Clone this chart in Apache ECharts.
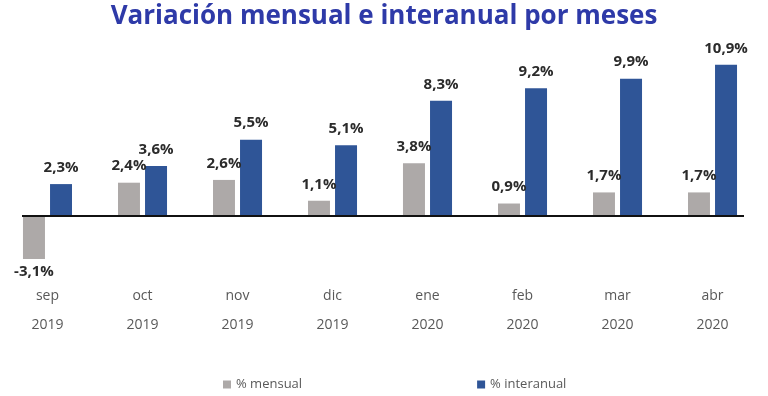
<!DOCTYPE html>
<html>
<head>
<meta charset="utf-8">
<script src="https://cdn.jsdelivr.net/npm/echarts@6/dist/echarts.min.js"></script>
<style>html,body{margin:0;padding:0;background:#fff}#c{width:768px;height:396px}</style>
</head>
<body>
<div id="c"></div>
<script>
var months = ['sep','oct','nov','dic','ene','feb','mar','abr'];
var years = ['2019','2019','2019','2019','2020','2020','2020','2020'];
var mensual = [-3.1, 2.4, 2.6, 1.1, 3.8, 0.9, 1.7, 1.7];
var interanual = [2.3, 3.6, 5.5, 5.1, 8.3, 9.2, 9.9, 10.9];
var seriesNames = ['% mensual', '% interanual'];

var fmt = function (v) { return v.toFixed(1).replace('.', ',') + '%'; };
function toItems(arr) {
  return arr.map(function (v) {
    return { value: v, label: v < 0 ? { position: 'bottom', distance: 5 } : { position: 'top' } };
  });
}
var labelStyle = {
  show: true, distance: 9,
  fontFamily: 'Open Sans', fontWeight: 'bold', fontSize: 15, color: '#2b2b2b',
  formatter: function (p) { return fmt(p.value); }
};

var chart = echarts.init(document.getElementById('c'), null, { renderer: 'canvas' });
chart.setOption({
  animation: false,
  backgroundColor: '#ffffff',
  title: {
    text: 'Variación mensual e interanual por meses',
    left: 'center', top: 0, padding: [4, 0, 0, 0],
    textStyle: { fontFamily: 'Open Sans', fontWeight: 'bold', fontSize: 26, color: '#2E3AA8' }
  },
  legend: {
    data: seriesNames,
    left: 218, top: 373,
    icon: 'rect', itemWidth: 8, itemHeight: 8, itemGap: 175,
    textStyle: { fontFamily: 'Open Sans', fontSize: 13, color: '#595959' }
  },
  grid: [
    { left: 0, right: 8, top: 49.5, height: 222 },
    { left: 22, right: 24, top: 49.5, height: 222 }
  ],
  xAxis: [
    {
      type: 'category', gridIndex: 0, data: months,
      axisLine: { show: false, onZero: false }, axisTick: { show: false },
      axisLabel: {
        margin: 10, interval: 0,
        formatter: function (v, i) { return '{m|' + v + '}\n{y|' + years[i] + '}'; },
        rich: {
          m: { fontFamily: 'Open Sans', fontSize: 14, color: '#595959', lineHeight: 29 },
          y: { fontFamily: 'Open Sans', fontSize: 14, color: '#595959', lineHeight: 29 }
        }
      }
    },
    { type: 'value', gridIndex: 1, min: 0, max: 1, show: false }
  ],
  yAxis: [
    { type: 'value', gridIndex: 0, min: -4, max: 12, show: false },
    { type: 'value', gridIndex: 1, min: -4, max: 12, show: false }
  ],
  series: [
    {
      name: seriesNames[0], type: 'bar', xAxisIndex: 0, yAxisIndex: 0,
      data: toItems(mensual), barWidth: 22, barGap: '23%',
      itemStyle: { color: '#ADA9A8' }, label: labelStyle
    },
    {
      name: seriesNames[1], type: 'bar', xAxisIndex: 0, yAxisIndex: 0,
      data: toItems(interanual), barWidth: 22, barGap: '23%',
      itemStyle: { color: '#2F5597' }, label: labelStyle
    },
    {
      name: 'zero', type: 'line', xAxisIndex: 1, yAxisIndex: 1,
      data: [[0, 0], [1, 0]], symbol: 'none', silent: true,
      lineStyle: { color: '#111111', width: 2 }, z: 5
    }
  ]
});
</script>
</body>
</html>
